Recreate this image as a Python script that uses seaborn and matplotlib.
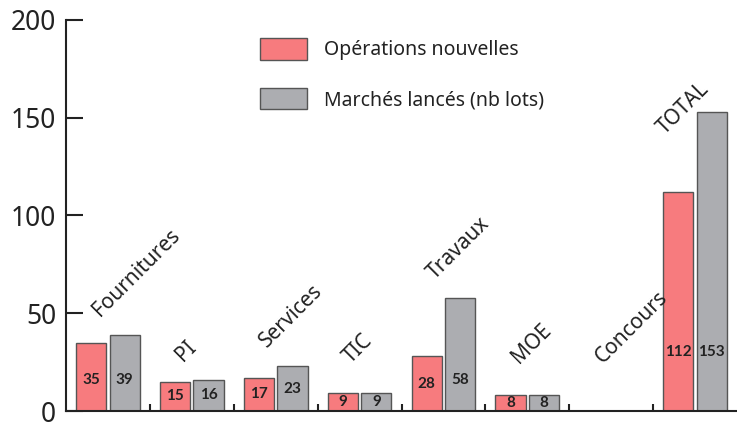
import numpy as np
import pandas as pd
import matplotlib
matplotlib.use("Agg")
import matplotlib.pyplot as plt
from matplotlib.patches import Patch
import seaborn as sns

# Data
categories = ["Fournitures", "PI", "Services", "TIC", "Travaux", "MOE", "Concours", "TOTAL"]
operations = [35, 15, 17, 9, 28, 8, 0, 112]
marches = [39, 16, 23, 9, 58, 8, 0, 153]
series_names = ["Opérations nouvelles", "Marchés lancés (nb lots)"]

red = "#F77B7E"
grey = "#ACADB1"
edge = "#555555"
ink = "#222222"

df = pd.DataFrame({
    "cat": categories * 2,
    "val": operations + marches,
    "serie": [series_names[0]] * len(categories) + [series_names[1]] * len(categories),
})

sns.set_style("white")
plt.rcParams["font.family"] = ["Noto Sans", "DejaVu Sans"]

fig = plt.figure(figsize=(7.37, 4.23), dpi=100)
ax = fig.add_axes([66 / 737, 12 / 423, 1 - 66 / 737, (411 - 20) / 423])

sns.barplot(data=df, x="cat", y="val", hue="serie", order=categories,
            hue_order=series_names, palette=[red, grey], saturation=1,
            width=0.8, gap=0.1, edgecolor=edge, linewidth=1, legend=False, ax=ax)

ax.set_xlim(-0.5, 7.5)
ax.set_ylim(0, 200)
ax.set_xlabel("")
ax.set_ylabel("")

# y axis
ax.set_yticks([0, 50, 100, 150, 200])
ax.tick_params(axis="y", direction="in", length=12, width=1.5, color=ink,
               labelsize=19, labelcolor=ink, pad=7, left=True)
# x axis: ticks between groups, no tick labels
ax.set_xticks(np.arange(0.5, 7.5, 1))
ax.set_xticklabels([])
ax.tick_params(axis="x", direction="in", length=5, width=1.5, color=ink, bottom=True)

for side in ["top", "right"]:
    ax.spines[side].set_visible(False)
for side in ["left", "bottom"]:
    ax.spines[side].set_color(ink)
    ax.spines[side].set_linewidth(1.5)

# value labels inside bars
for i, cat in enumerate(categories):
    for off, v in [(-0.2, operations[i]), (0.2, marches[i])]:
        if v == 0:
            continue
        y = 30 if cat == "TOTAL" else min(v / 2, 16)
        ax.text(i + off, y, str(v), ha="center", va="center", fontsize=11,
                fontweight="bold", family=["Lato", "DejaVu Sans"], color=ink)

# rotated category labels above groups
for i, cat in enumerate(categories):
    top = max(operations[i], marches[i])
    if cat == "TOTAL":
        x, y = i - 0.36, operations[i] + 29
    else:
        x, y = i - 0.1, max(top + 9, 24)
    ax.text(x, y, cat, rotation=45, rotation_mode="anchor", ha="left",
            va="baseline", fontsize=15, color=ink)

handles = [Patch(facecolor=red, edgecolor=edge, linewidth=1),
           Patch(facecolor=grey, edgecolor=edge, linewidth=1)]
fig.legend(handles, series_names, loc="upper left",
           bbox_to_anchor=(260 / 737, 1 - 38 / 423), frameon=False,
           fontsize=14, handlelength=2.4, handleheight=1.35,
           handletextpad=0.9, labelspacing=1.4, borderpad=0, borderaxespad=0,
           labelcolor=ink)

fig.savefig("out.png", dpi=100)
